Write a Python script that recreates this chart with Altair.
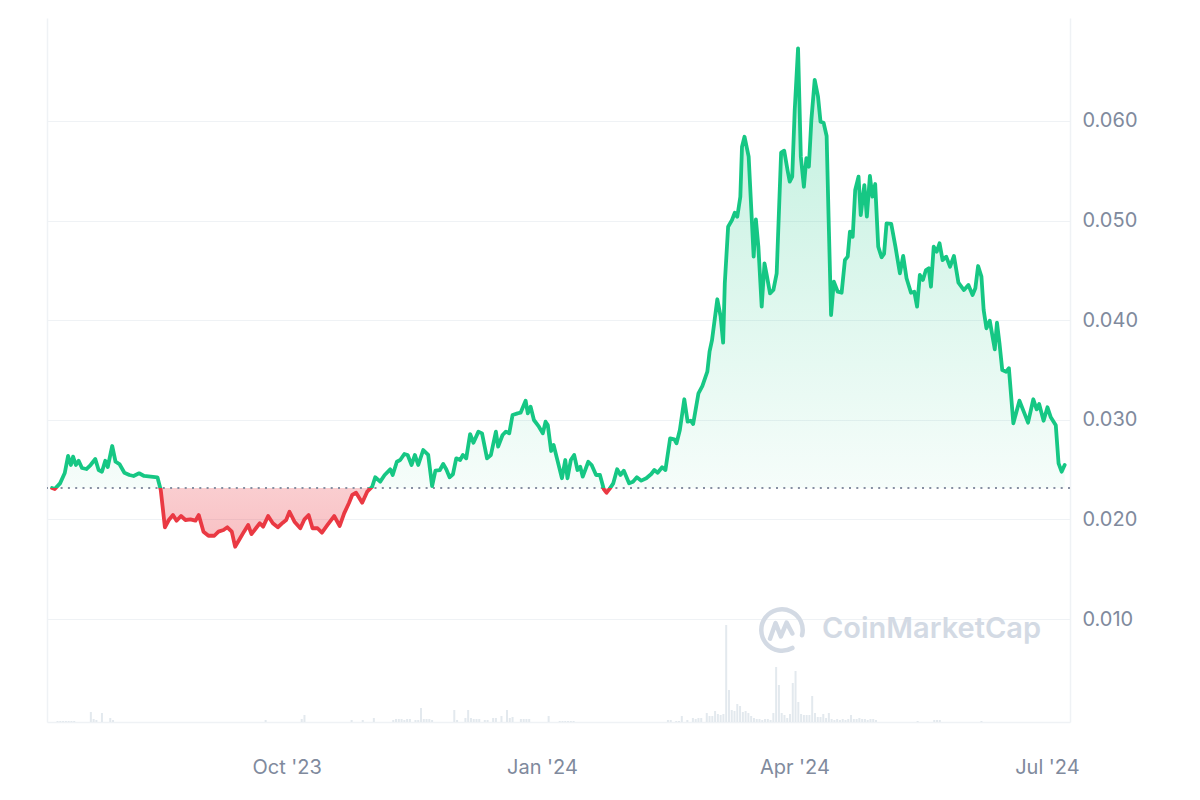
import altair as alt
import pandas as pd

# ---- time frame (1 year view) ----
START = "2023-07-08T09:50:00"

# price series: day offset from START, price (USD)
day = [0, 1.0, 2.9, 4.6, 5.8, 6.8, 7.6, 8.6, 9.6, 10.8, 12.4, 13.9, 15.6, 16.8, 18.0, 19.2, 20.1,
       21.7, 22.9, 24.3, 26.1, 27.9, 29.4, 31.4, 33.2, 35.6, 38.0, 39.2, 40.7, 42.1, 43.6, 44.9,
       46.5, 48.1, 49.9, 51.7, 52.9, 54.6, 56.4, 58.5, 60.0, 61.8, 63.2, 64.8, 66.0, 67.8, 69.2,
       70.7, 71.9, 73.5, 74.9, 76.1, 77.9, 79.6, 81.4, 83.2, 84.4, 85.6, 87.4, 89.5, 91.0, 92.5,
       93.9, 95.7, 97.3, 99.3, 101.7, 103.7, 105.3, 107.0, 108.2, 109.6, 111.8, 113.6, 115.4,
       116.5, 118.3, 119.9, 121.9, 122.8, 124.3, 125.5, 127.0, 128.2, 129.6, 130.8, 132.0, 133.8,
       135.6, 137.0, 138.2, 139.8, 141.0, 142.1, 143.3, 144.5, 145.7, 147.1, 148.1, 149.3, 150.7,
       151.9, 153.7, 155.0, 156.8, 158.2, 160.0, 160.8, 162.4, 163.6, 164.8, 166.0, 167.8, 168.9,
       170.7, 171.5, 172.5, 173.7, 175.5, 176.9, 177.9, 178.7, 179.9, 180.8, 182.0, 183.8, 185.0,
       185.8, 187.0, 188.2, 189.4, 190.4, 191.3, 193.3, 194.5, 196.1, 197.5, 198.9, 199.9, 201.1,
       202.3, 203.7, 204.9, 206.1, 208.0, 209.4, 210.8, 212.4, 214.2, 216.0, 217.1, 218.3, 219.9,
       221.1, 222.8, 224.3, 225.1, 226.3, 227.9, 229.1, 230.2, 231.1, 233.0, 234.4, 236.2, 237.0,
       237.9, 239.8, 241.0, 241.9, 242.5, 243.7, 245.1, 246.1, 247.0, 248.1, 248.7, 249.6, 251.1,
       252.9, 253.7, 254.6, 255.8, 256.8, 257.6, 258.8, 260.0, 261.2, 262.8, 263.9, 265.1, 265.9,
       266.8, 267.7, 268.9, 269.9, 271.0, 271.9, 272.8, 273.7, 274.9, 276.1, 277.0, 278.1, 279.2,
       279.9, 280.8, 281.8, 283.2, 284.6, 285.8, 286.8, 287.6, 288.6, 289.5, 290.7, 291.5, 292.8,
       293.7, 294.8, 295.7, 296.7, 297.8, 299.0, 299.9, 300.8, 302.5, 304.0, 305.6, 306.8, 308.0,
       309.6, 310.8, 311.8, 312.8, 313.9, 315.0, 316.0, 316.8, 317.8, 318.9, 319.9, 321.0, 322.3,
       323.7, 325.1, 326.7, 328.7, 330.3, 331.8, 332.8, 333.8, 335.0, 335.8, 336.8, 338.0, 339.8,
       340.6, 341.5, 342.5, 343.9, 344.9, 346.5, 348.7, 350.5, 351.8, 353.7, 354.9, 355.8, 357.4,
       358.8, 360.0, 361.8, 362.8, 363.9, 365.0]

price = [0.02315, 0.02305, 0.02362, 0.02466, 0.02637, 0.02546, 0.02630, 0.02546, 0.02589, 0.02516,
         0.02506, 0.02546, 0.02606, 0.02496, 0.02479, 0.02589, 0.02526, 0.02737, 0.02579, 0.02556,
         0.02469, 0.02446, 0.02436, 0.02463, 0.02436, 0.02429, 0.02423, 0.02295, 0.01920, 0.01994,
         0.02044, 0.01987, 0.02034, 0.01994, 0.02001, 0.01987, 0.02044, 0.01877, 0.01836, 0.01836,
         0.01877, 0.01894, 0.01921, 0.01877, 0.01726, 0.01810, 0.01877, 0.01944, 0.01853, 0.01911,
         0.01961, 0.01927, 0.02034, 0.01961, 0.01921, 0.01967, 0.01994, 0.02077, 0.01977, 0.01911,
         0.02001, 0.02044, 0.01911, 0.01911, 0.01867, 0.01944, 0.02034, 0.01934, 0.02061, 0.02162,
         0.02245, 0.02268, 0.02168, 0.02278, 0.02328, 0.02423, 0.02379, 0.02446, 0.02503, 0.02446,
         0.02579, 0.02596, 0.02657, 0.02647, 0.02546, 0.02647, 0.02546, 0.02697, 0.02647, 0.02335,
         0.02489, 0.02496, 0.02556, 0.02503, 0.02423, 0.02453, 0.02613, 0.02596, 0.02647, 0.02613,
         0.02857, 0.02770, 0.02881, 0.02864, 0.02613, 0.02647, 0.02881, 0.02730, 0.02847, 0.02881,
         0.02864, 0.03048, 0.03065, 0.03071, 0.03192, 0.03065, 0.03132, 0.02998, 0.02931, 0.02864,
         0.02981, 0.02948, 0.02687, 0.02747, 0.02613, 0.02413, 0.02596, 0.02413, 0.02596, 0.02647,
         0.02496, 0.02529, 0.02429, 0.02579, 0.02546, 0.02446, 0.02446, 0.02302, 0.02268, 0.02312,
         0.02362, 0.02503, 0.02446, 0.02489, 0.02362, 0.02379, 0.02423, 0.02389, 0.02413, 0.02456,
         0.02496, 0.02469, 0.02523, 0.02496, 0.02814, 0.02804, 0.02764, 0.02898, 0.03206, 0.02981,
         0.02991, 0.02958, 0.03266, 0.03339, 0.03483, 0.03684, 0.03801, 0.04210, 0.04035, 0.03774,
         0.04371, 0.04939, 0.05006, 0.05079, 0.05039, 0.05240, 0.05742, 0.05842, 0.05642, 0.04638,
         0.05013, 0.04738, 0.04136, 0.04571, 0.04454, 0.04270, 0.04303, 0.04471, 0.05682, 0.05702,
         0.05508, 0.05391, 0.05441, 0.06110, 0.06730, 0.05642, 0.05340, 0.05626, 0.05541, 0.06010,
         0.06412, 0.06244, 0.05993, 0.05983, 0.05849, 0.05039, 0.04052, 0.04387, 0.04286, 0.04276,
         0.04604, 0.04638, 0.04889, 0.04838, 0.05307, 0.05441, 0.05056, 0.05357, 0.05039, 0.05448,
         0.05240, 0.05367, 0.04738, 0.04632, 0.04665, 0.04973, 0.04966, 0.04738, 0.04471, 0.04645,
         0.04421, 0.04276, 0.04286, 0.04136, 0.04454, 0.04404, 0.04504, 0.04521, 0.04336, 0.04738,
         0.04688, 0.04772, 0.04604, 0.04638, 0.04537, 0.04645, 0.04377, 0.04303, 0.04353, 0.04253,
         0.04320, 0.04544, 0.04437, 0.04102, 0.03919, 0.03995, 0.03708, 0.03975, 0.03768, 0.03500,
         0.03483, 0.03517, 0.02965, 0.03192, 0.03065, 0.02971, 0.03206, 0.03105, 0.03159, 0.02991,
         0.03126, 0.03025, 0.02945, 0.02563, 0.02479, 0.02546]

# volume bars: day offset from START, relative volume
vol_day = [2, 3, 4, 5, 6, 7, 8, 14, 15, 16, 18, 21, 22, 77, 90, 91, 108, 112, 116,
           123, 124, 125, 126, 127, 128, 129, 131, 132, 133, 134, 135, 136, 137,
           145, 146, 149, 150, 151, 152, 153, 154, 156, 157, 159, 160, 162, 164, 165, 166,
           169, 170, 171, 172, 179, 183, 184, 185, 186, 187, 188,
           222, 223, 225, 226, 227, 229, 231, 232, 233, 234, 236, 237, 238, 239, 240, 241, 242,
           243, 244, 245, 246, 247, 248, 249, 250, 251, 252, 253, 254, 255, 256, 257, 258, 259,
           260, 261, 262, 263, 264, 265, 266, 267, 268, 269, 270, 271, 272, 273, 274, 275, 276,
           277, 278, 279, 280, 281, 282, 283, 284, 285, 286, 287, 288, 289, 290, 291, 292, 293,
           294, 295, 296, 297, 312, 318, 319, 320, 335]
vol = [1, 1, 1, 1, 1, 1, 1, 10, 3, 2, 9, 4, 2, 2, 3, 7, 2, 2, 4,
       2, 3, 3, 3, 2, 3, 3, 2, 2, 14, 3, 3, 3, 2,
       12, 2, 4, 12, 4, 3, 3, 3, 2, 2, 4, 4, 6, 12, 4, 5,
       3, 3, 3, 3, 6, 1, 1, 1, 1, 1, 1,
       2, 2, 1, 1, 6, 2, 4, 3, 4, 4, 9, 6, 6, 11, 8, 7, 8,
       97, 32, 12, 11, 18, 16, 10, 11, 9, 6, 4, 3, 3, 2, 3, 3, 2,
       9, 55, 37, 9, 7, 4, 8, 39, 51, 20, 8, 7, 7, 7, 26, 9, 5,
       5, 8, 4, 9, 3, 2, 3, 2, 3, 2, 3, 7, 3, 3, 4, 3, 3,
       2, 3, 3, 2, 1, 2, 2, 2, 1]

t0 = pd.Timestamp(START)
price_df = pd.DataFrame({"date": (t0 + pd.to_timedelta(day, unit="D")).round("min"), "price": price})
vol_df = pd.DataFrame({"date": (t0 + pd.to_timedelta(vol_day, unit="D")).round("min"), "volume": vol})

BASE = price[0]
pmax, pmin = max(price), min(price)
f = (pmax - BASE) / (pmax - pmin)

GREEN = "#16c784"
RED = "#ea3943"
GRID = "#eff2f5"
LABEL = "#808a9d"
FONT = "Inter"
FS = 20

x_scale = alt.Scale(domain=[alt.DateTime(year=2023, month=7, date=8, hours=9, minutes=50),
                            alt.DateTime(year=2024, month=7, date=7, hours=12, minutes=40)])
x_axis = alt.Axis(values=[alt.DateTime(year=2023, month=10, date=1),
                          alt.DateTime(year=2024, month=1, date=1),
                          alt.DateTime(year=2024, month=4, date=1),
                          alt.DateTime(year=2024, month=7, date=1)],
                  format="%b '%y", title=None, ticks=False, grid=False,
                  domain=True, domainColor=GRID, domainWidth=1.5,
                  labelFontSize=FS, labelColor=LABEL, labelFont=FONT, labelPadding=35,
                  labelFlush=False, labelOverlap=False)

y_scale = alt.Scale(domain=[-0.00034, 0.07034], nice=False, zero=False)
y_axis = alt.Axis(orient="right", values=[0.01, 0.02, 0.03, 0.04, 0.05, 0.06], format=".3f",
                  title=None, ticks=False, domain=True, domainColor=GRID, domainWidth=1.5,
                  grid=True, gridColor=GRID, gridWidth=1.2,
                  labelFontSize=FS, labelColor=LABEL, labelFont=FONT, labelPadding=12)

X = alt.X("date:T", scale=x_scale, axis=x_axis)

volume = alt.Chart(vol_df).mark_bar(size=2, color="#e3e9ee").encode(
    x=X,
    y=alt.Y("volume:Q", scale=alt.Scale(domain=[0, 704]),
            axis=alt.Axis(orient="left", labels=False, ticks=False, grid=False, title=None,
                          domain=True, domainColor=GRID, domainWidth=1.5)),
)

area_fill = alt.Gradient(
    gradient="linear", x1=0, x2=0, y1=0, y2=1,
    stops=[alt.GradientStop(color="rgba(22,199,132,0.28)", offset=0),
           alt.GradientStop(color="rgba(22,199,132,0.04)", offset=f),
           alt.GradientStop(color="rgba(234,57,67,0.25)", offset=f),
           alt.GradientStop(color="rgba(234,57,67,0.32)", offset=1)])

line_stroke = alt.Gradient(
    gradient="linear", x1=0, x2=0, y1=0, y2=1,
    stops=[alt.GradientStop(color=GREEN, offset=0),
           alt.GradientStop(color=GREEN, offset=f),
           alt.GradientStop(color=RED, offset=f),
           alt.GradientStop(color=RED, offset=1)])

area = alt.Chart(price_df).mark_area(fill=area_fill).encode(
    x=X,
    y=alt.Y("price:Q", scale=y_scale, axis=y_axis),
    y2=alt.datum(BASE),
)

base_rule = alt.Chart(pd.DataFrame({"b": [BASE]})).mark_rule(
    color="#878fa2", strokeWidth=2, strokeDash=[2, 5.3]
).encode(y=alt.Y("b:Q", scale=y_scale, axis=y_axis))

line = alt.Chart(price_df).mark_line(
    stroke=line_stroke, strokeWidth=3.8, strokeJoin="round", strokeCap="round"
).encode(
    x=X,
    y=alt.Y("price:Q", scale=y_scale, axis=y_axis),
)

price_layers = alt.layer(area, base_rule, line)

wm_df = pd.DataFrame({"t": ["CoinMarketCap"]})
LOGO = ("M0.45,0.78 A0.9,0.9 0 1 1 0.87,0.23 "
        "M-0.52,0.38 L-0.28,-0.3 L-0.05,0.28 L0.2,-0.32 L0.45,0.15")
logo = alt.Chart(wm_df).mark_point(
    shape=LOGO, size=46 * 46, filled=False, stroke="#d3dae4", strokeWidth=4.5,
    opacity=1, strokeJoin="round", strokeCap="round"
).encode(x=alt.value(735), y=alt.value(612))
wm_text = alt.Chart(wm_df).mark_text(
    align="left", baseline="alphabetic", fontSize=29, fontWeight=600, font=FONT,
    color="#d3dae4"
).encode(text="t:N", x=alt.value(775), y=alt.value(620))

chart = alt.layer(volume, price_layers, logo, wm_text).resolve_scale(y="independent").properties(
    width=1023, height=704,
    autosize=alt.AutoSizeParams(type="none"),
    padding={"left": 47, "top": 18, "right": 130, "bottom": 78},
    background="white",
).configure_view(stroke=None)

chart.save("out.html", embed_options={"renderer": "svg", "actions": False})
